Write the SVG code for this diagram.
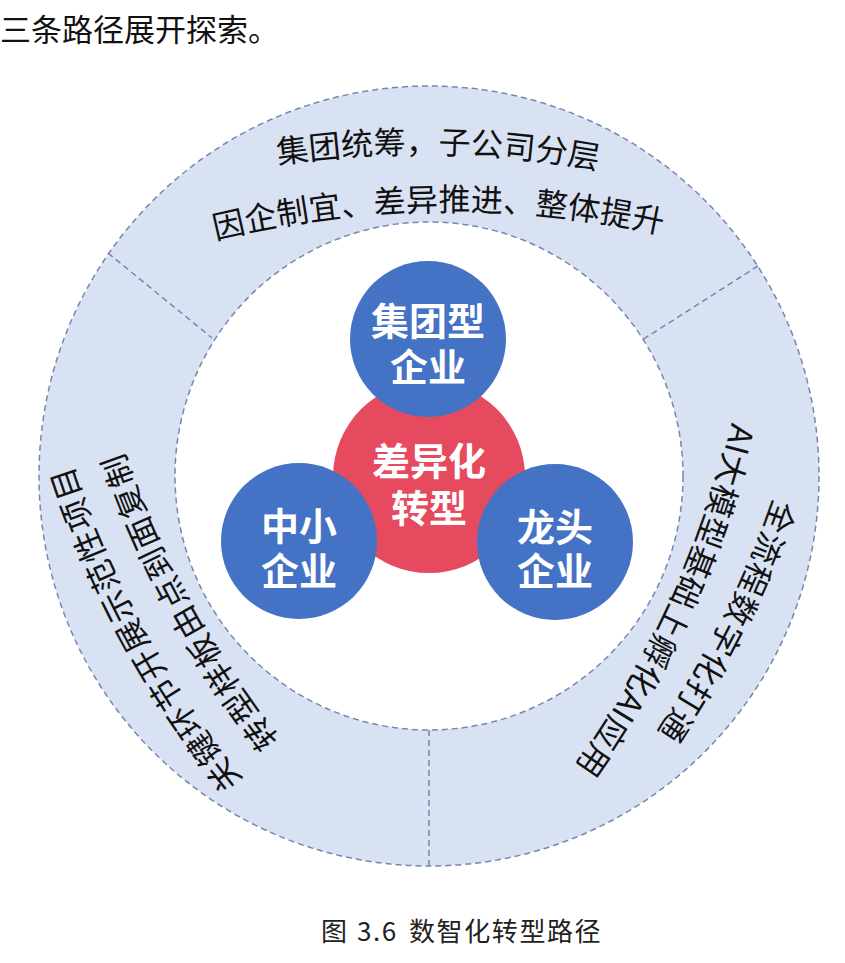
<svg xmlns="http://www.w3.org/2000/svg" width="845" height="963" viewBox="0 0 845 963">
<style>
.cjk{font-family:"Noto Sans CJK SC","Noto Sans",sans-serif}
.arc{font-family:"Noto Sans CJK SC",sans-serif;font-size:32px;fill:#111;letter-spacing:0.6px}
.node{font-family:"Noto Sans CJK SC",sans-serif;font-size:38px;font-weight:700;fill:#fff}
.dash{fill:none;stroke:#7588AC;stroke-width:1.5;stroke-dasharray:6 4}
</style>
<defs>
<path id="arcp" d="M -295.5 44.7 A 1000 1000 0 0 1 295.5 44.7"/>
</defs>
<rect width="845" height="963" fill="#fff"/>
<text class="cjk" x="0" y="27" dominant-baseline="central" font-size="31" fill="#111">三条路径展开探索。</text>

<g id="ring">
<path d="M 39 476 A 390 390 0 1 1 819 476 A 390 390 0 1 1 39 476 Z M 175 476 A 254 254 0 1 0 683 476 A 254 254 0 1 0 175 476 Z" fill="#D9E2F3" fill-rule="evenodd"/>
<circle class="dash" cx="429" cy="476" r="390"/>
<circle class="dash" cx="429" cy="476" r="254"/>
</g>
<g id="connectors">
<line class="dash" x1="429" y1="730" x2="429" y2="866"/>
<line class="dash" x1="108" y1="253" x2="212" y2="338"/>
<line class="dash" x1="758" y1="266" x2="642" y2="340"/>
</g>

<g id="sector-top">
<g transform="translate(438.7,139.8) rotate(1)"><text class="arc" dominant-baseline="central"><textPath href="#arcp" startOffset="50%" text-anchor="middle">集团统筹，子公司分层</textPath></text></g>
<g transform="translate(438.5,197.1) rotate(-0.7)"><text class="arc" dominant-baseline="central"><textPath href="#arcp" startOffset="50%" text-anchor="middle">因企制宜、差异推进、整体提升</textPath></text></g>
</g>
<g id="sector-left">
<g transform="translate(130.3,636.6) rotate(-118.4)"><text class="arc" dominant-baseline="central" style="letter-spacing:1.4px"><textPath href="#arcp" startOffset="50%" text-anchor="middle">关键环节开展示范性项目</textPath></text></g>
<g transform="translate(176.8,608.3) rotate(-118.5)"><text class="arc" dominant-baseline="central" style="letter-spacing:1.4px"><textPath href="#arcp" startOffset="50%" text-anchor="middle">转型样板由点到面复制</textPath></text></g>
</g>
<g id="sector-right">
<g transform="translate(735.7,626.1) rotate(116.6)"><text class="arc" dominant-baseline="central" style="letter-spacing:1.4px"><textPath href="#arcp" startOffset="50%" text-anchor="middle">全流程数字化打通</textPath></text></g>
<g transform="translate(682.6,608.3) rotate(114.5)"><text class="arc" dominant-baseline="central"><textPath href="#arcp" startOffset="50%" text-anchor="middle">AI大模型基础上孵化AI应用</textPath></text></g>
</g>

<g id="node-center">
<circle cx="429" cy="477" r="96" fill="#E64A5E"/>
<text class="node" text-anchor="middle" dominant-baseline="central"><tspan x="429" y="458">差异化</tspan><tspan x="429" y="505">转型</tspan></text>
</g>
<g id="node-group">
<circle cx="428" cy="339" r="78" fill="#4472C4"/>
<text class="node" text-anchor="middle" dominant-baseline="central"><tspan x="428" y="318">集团型</tspan><tspan x="428" y="364">企业</tspan></text>
</g>
<g id="node-sme">
<circle cx="299" cy="541" r="78" fill="#4472C4"/>
<text class="node" text-anchor="middle" dominant-baseline="central"><tspan x="299" y="523">中小</tspan><tspan x="299" y="568">企业</tspan></text>
</g>
<g id="node-leader">
<circle cx="555" cy="542" r="78" fill="#4472C4"/>
<text class="node" text-anchor="middle" dominant-baseline="central"><tspan x="555" y="524">龙头</tspan><tspan x="555" y="568">企业</tspan></text>
</g>

<text class="cjk" y="929" dominant-baseline="central" font-size="26" fill="#222" style="letter-spacing:1.6px"><tspan x="321">图</tspan><tspan x="357">3.6</tspan><tspan x="409">数智化转型路径</tspan></text>
</svg>
